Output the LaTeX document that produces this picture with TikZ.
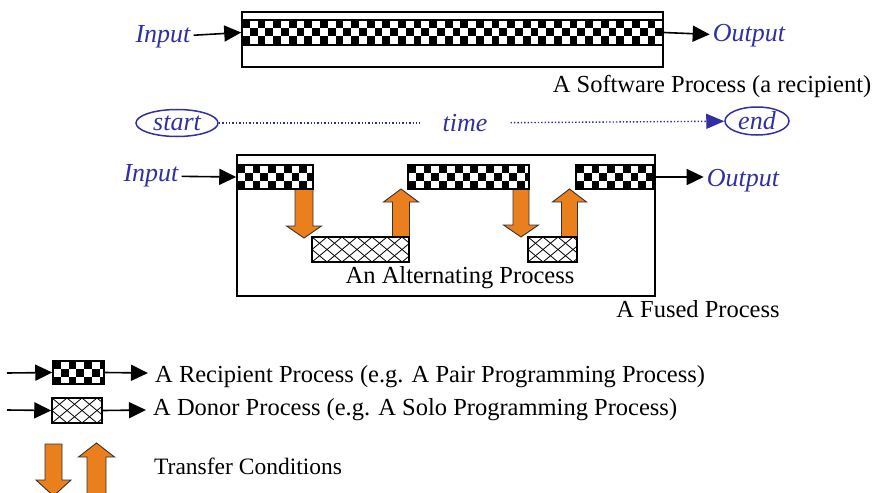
\documentclass[tikz,border=0pt]{standalone}
\usepackage{fontspec}
\setmainfont{Liberation Serif}
\usetikzlibrary{arrows.meta,shapes.geometric}
\definecolor{tblue}{RGB}{48,48,160}
\definecolor{torange}{RGB}{234,127,30}
\tikzset{
 lbl/.style={font=\fontsize{24.5}{28}\selectfont, inner sep=2pt},
 ital/.style={font=\fontsize{26}{30}\selectfont\itshape, text=tblue, inner sep=3pt},
 box/.style={draw, line width=1.5pt, rectangle, inner sep=0pt},
 recip/.style={box, path picture={
   \foreach \i in {0,...,60}{\foreach \j in {0,1,2}{
     \pgfmathtruncatemacro\kk{mod(\i+\j,2)}
     \ifnum\kk=0 \fill[black] (path picture bounding box.north west) ++(\i*7.8pt,-\j*8.2pt) rectangle ++(7.8pt,-8.2pt);\fi}}
   }},
 donor/.style={box, line width=1.5pt, path picture={
   \foreach \i in {-3,...,10}{
     \draw[line width=0.8pt] (path picture bounding box.north west) ++(\i*15pt,0pt) -- ++(30pt,-25pt);
     \draw[line width=0.8pt] (path picture bounding box.north west) ++(\i*15pt,0pt) -- ++(-30pt,-25pt);}
   }},
 arr/.style={line width=1.6pt, arrows={-Triangle[length=17pt, width=16pt]}},
 tc/.style={fill=torange, draw=black!80, line width=0.9pt, line join=miter},
 bubble/.style={ellipse, draw=tblue, line width=1.5pt, inner sep=0pt},
 tline/.style={tblue, dotted, line width=1.4pt}
}
\newcommand\tcarrow[6]{%
 \filldraw[tc] (#1-#2,#3) -- (#1+#2,#3) -- (#1+#2,#4) -- (#1+#6,#4) -- (#1,#5)
   -- (#1-#6,#4) -- (#1-#2,#4) -- cycle;}
\begin{document}
\begin{tikzpicture}[x=1pt,y=-1pt]
\useasboundingbox (0,0) rectangle (874,492);
% ---- top: software process
\node[box, minimum width=421, minimum height=55] (sw) at (452.5,39.5) {};
\node[recip, minimum width=421, minimum height=25] (swband) at (452.5,32.5) {};
\node[ital] (in1) at (163,37) {Input};
\node[ital] (out1) at (749,36) {Output};
\draw[arr] (in1) -- (swband.west);
\draw[arr] (swband.east) -- (out1);
\node[lbl] (swlbl) at (712,86) {A Software Process (a recipient)};
% ---- time line
\node[bubble, minimum width=82, minimum height=27] (start) at (177,123) {};
\node[ital] at (start) {start};
\node[ital, inner xsep=23pt] (time) at (465,123) {time};
\node[bubble, minimum width=64, minimum height=28] (end) at (757,121) {};
\node[ital] at (end) {end};
\draw[tline] (start) -- (time);
\draw[tline, arrows={-Triangle[length=18pt, width=15pt]}] (time) -- (end);
% ---- fused process
\node[box, minimum width=418, minimum height=141] (fused) at (446,225.5) {};
\tcarrow{304}{9}{189}{226}{238}{17.5}
\tcarrow{401}{8.5}{237}{202}{189}{17.5}
\tcarrow{521}{8}{189}{225}{237}{17.5}
\tcarrow{569.5}{8}{237}{202}{189}{17}
\node[recip, minimum width=76, minimum height=24] (r1) at (275,177) {};
\node[recip, minimum width=121, minimum height=24] (r2) at (468.5,177) {};
\node[recip, minimum width=77, minimum height=24] (r3) at (614.5,177) {};
\node[donor, minimum width=97, minimum height=25] (d1) at (360.5,249.5) {};
\node[donor, minimum width=49, minimum height=25] (d2) at (552.5,249.5) {};
\node[ital] (in2) at (151,176) {Input};
\node[ital] (out2) at (743,181) {Output};
\draw[arr] (in2) -- (r1.west);
\draw[arr] (r3.east) -- (out2.west |- r3.east);
\node[lbl] (alt) at (460,278) {An Alternating Process};
\node[lbl] (fuslbl) at (698,309) {A Fused Process};
% ---- legend
\coordinate (l1a) at (7,373);
\coordinate (l1b) at (148,373);
\node[recip, minimum width=51, minimum height=23] (lr) at (78.5,372.5) {};
\draw[arr] (l1a) -- (lr.west);
\draw[arr] (lr.east) -- (l1b);
\node[lbl, anchor=west] (lrt) at (153,377) {A Recipient Process (e.g. A Pair Programming Process)};
\coordinate (l2a) at (7,410);
\coordinate (l2b) at (146,410);
\node[donor, minimum width=50, minimum height=25] (ld) at (77,410.5) {};
\draw[arr] (l2a) -- (ld.west);
\draw[arr] (ld.east) -- (l2b);
\node[lbl, anchor=west] (ldt) at (151,410) {A Donor Process (e.g. A Solo Programming Process)};
\tcarrow{53.5}{8.5}{444}{480}{496}{17.5}
\tcarrow{96.5}{9.5}{494}{457}{443}{18}
\node[lbl, anchor=west, font=\fontsize{23.5}{28}\selectfont] (tct) at (152,466) {Transfer Conditions};
\end{tikzpicture}
\end{document}
